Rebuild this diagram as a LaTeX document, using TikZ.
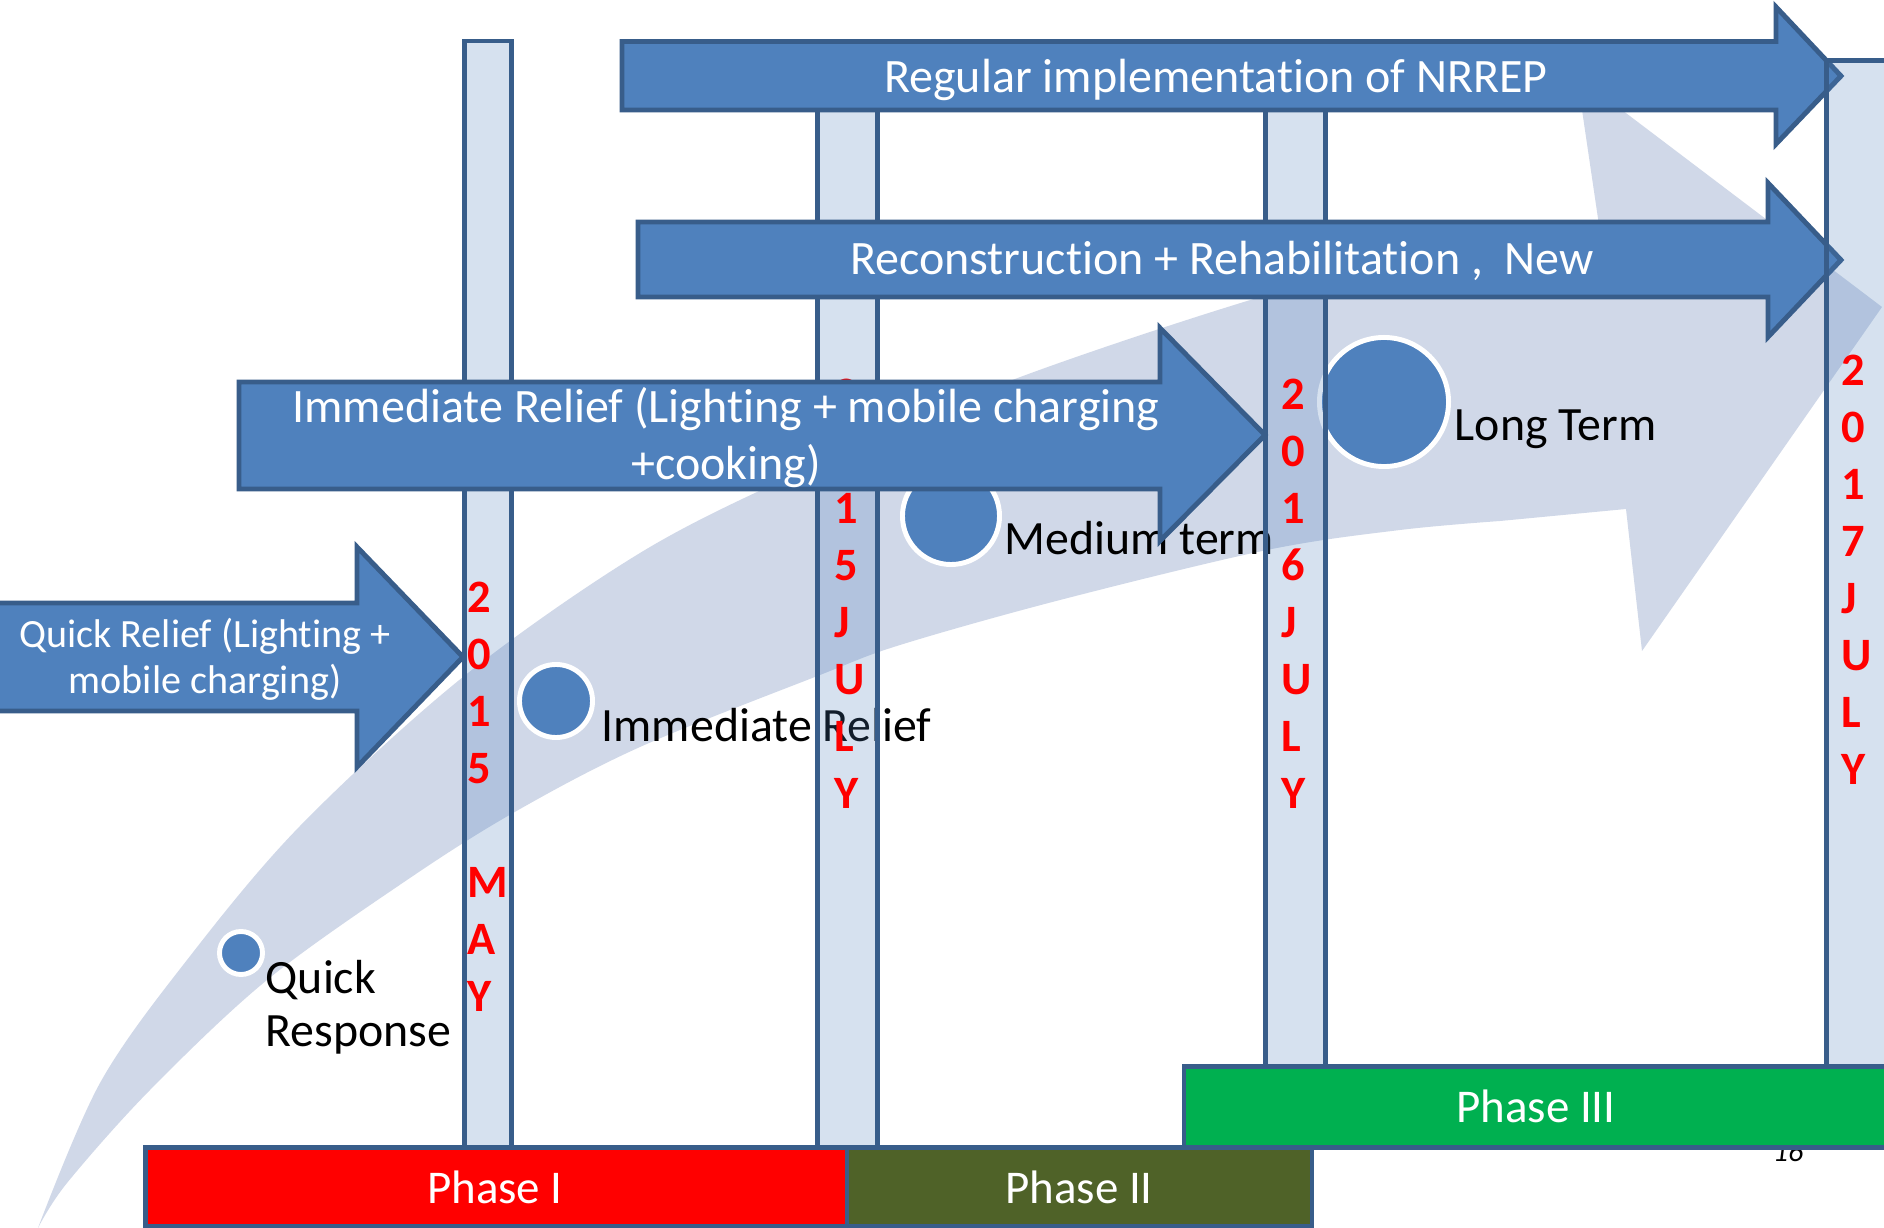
\documentclass[tikz,border=0pt]{standalone}
\usepackage{fontspec}
\setmainfont{Carlito}[Ligatures=NoCommon]
\usepackage{tikz}

\definecolor{accent}{HTML}{4F81BD}
\definecolor{edge}{HTML}{385D8A}
\definecolor{swoosh}{HTML}{D0D8E8}
\definecolor{phaseone}{HTML}{FF0000}
\definecolor{phasetwo}{HTML}{4F6228}
\definecolor{phasethree}{HTML}{00B050}

\begin{document}
\begin{tikzpicture}[x=0.01cm, y=-0.01cm, inner sep=0pt,
	datebar/.style={draw=edge, line width=1.4pt, fill=accent, fill opacity=0.23},
	bigarrow/.style={draw=edge, line width=1.4pt, fill=accent},
	phasebox/.style={draw=edge, line width=1.4pt},
	stagedot/.style={circle, draw=white, line width=1.4pt, fill=accent},
	arrowtext/.style={text=white, anchor=base, font=\fontsize{13.65}{16}\selectfont},
	smallarrowtext/.style={text=white, anchor=base, font=\fontsize{11.4}{13}\selectfont},
	stage/.style={anchor=base west, font=\fontsize{13.6}{16}\selectfont},
	datum/.style={text=red, anchor=base west, font=\bfseries\fontsize{13.2}{15}\selectfont},
	phasetext/.style={text=white, anchor=base, font=\fontsize{13.35}{16}\selectfont}]

	\useasboundingbox (0,0) rectangle (1884,1228);
	\clip (0,0) rectangle (1884,1228);
	\fill[white] (0,0) rectangle (1884,1228);

	% curved arrow in the background
	\fill[swoosh] plot[smooth, tension=0.55] coordinates {(38,1228) (100,1083) (187,960) (300,826) (463,677) (640,553) (800,472) (1007,382) (1257,298) (1420,258) (1600,232)}
		-- (1577,76) -- (1882,307) -- (1642,651) -- (1626,509)
		-- plot[smooth, tension=0.55] coordinates {(1500,521) (1400,530) (1267,550) (1060,600) (900,645) (820,675) (640,747) (513,813) (407,880) (267,980) (150,1090) (67,1183) (38,1228)} -- cycle;

	\node[stagedot, minimum size=0.43cm] (quickdot) at (241,953) {};
	\node[stagedot, minimum size=0.73cm] (immdot) at (556,701) {};
	\node[stagedot, minimum size=0.97cm] (meddot) at (951,516) {};
	\node[stagedot, minimum size=1.29cm] (longdot) at (1384,402) {};

	\node[stage] (quick) at (265,994) {Quick};
	\node[stage] (response) at (265,1047) {Response};
	\node[stage] (immediate) at (601,742) {Immediate Relief};
	\node[stage] (medium) at (1004,555) {Medium term};
	\node[stage] (long) at (1454,441) {Long Term};

	% vertical bars
	\draw[datebar] (464.5,41) rectangle (511.5,1147);
	\draw[datebar] (817.5,41) rectangle (877.5,1147);
	\draw[datebar] (1265.5,41) rectangle (1325.5,1066);

	\foreach \c [count=\i] in {2,0,1,5,{},M,A,Y}
		\node[datum] (may\i) at (467,{613+57*(\i-1)}) {\c};
	\foreach \c [count=\i] in {2,0,1,5,J,U,L,Y}
		\node[datum] (julya\i) at (834,{410+57*(\i-1)}) {\c};
	\foreach \c [count=\i] in {2,0,1,6,J,U,L,Y}
		\node[datum] (julyb\i) at (1281,{410+57*(\i-1)}) {\c};

	% block arrows
	\draw[bigarrow] (622,41.5) -- (1776,41.5) -- (1776,7) -- (1841,76) -- (1776,144) -- (1776,110) -- (622,110) -- cycle;
	\node[arrowtext] (nrrep) at (1216,93) {Regular implementation of NRREP};

	\draw[bigarrow] (638,222) -- (1768,222) -- (1768,183) -- (1841,260) -- (1768,337) -- (1768,297) -- (638,297) -- cycle;
	\node[arrowtext] (recon) at (1222,275) {Reconstruction + Rehabilitation ,\hspace{0.45em}New};

	\draw[bigarrow] (239,382) -- (1160,382) -- (1160,328) -- (1265,435) -- (1160,541) -- (1160,489) -- (239,489) -- cycle;
	\node[arrowtext] (imma) at (726,423) {Immediate Relief (Lighting + mobile charging};
	\node[arrowtext] (immb) at (726,480) {+cooking)};

	\draw[bigarrow] (-5,603) -- (357,603) -- (357,547) -- (463,657) -- (357,767) -- (357,711) -- (-5,711) -- cycle;
	\node[smallarrowtext] (quicka) at (205,648) {Quick Relief (Lighting +};
	\node[smallarrowtext] (quickb) at (205,694) {mobile charging)};

	% last bar lies over the arrows
	\draw[datebar] (1826.5,60.5) rectangle (1960,1066);
	\foreach \c [count=\i] in {2,0,1,7,J,U,L,Y}
		\node[datum] (julyc\i) at (1841,{386+57*(\i-1)}) {\c};

	\node[anchor=base, font=\itshape\fontsize{8.5}{10}\selectfont] (pagenum) at (1788,1162) {16};

	% phases
	\draw[phasebox, fill=phaseone] (145.5,1147.5) rectangle (847,1226);
	\draw[phasebox, fill=phasetwo] (847,1147.5) rectangle (1312,1226);
	\draw[phasebox, fill=phasethree] (1184,1066.5) rectangle (1960,1147.5);
	\node[phasetext] (p1) at (495,1203) {Phase I};
	\node[phasetext] (p2) at (1079,1203) {Phase II};
	\node[phasetext] (p3) at (1536,1123) {Phase III};
\end{tikzpicture}
\end{document}
